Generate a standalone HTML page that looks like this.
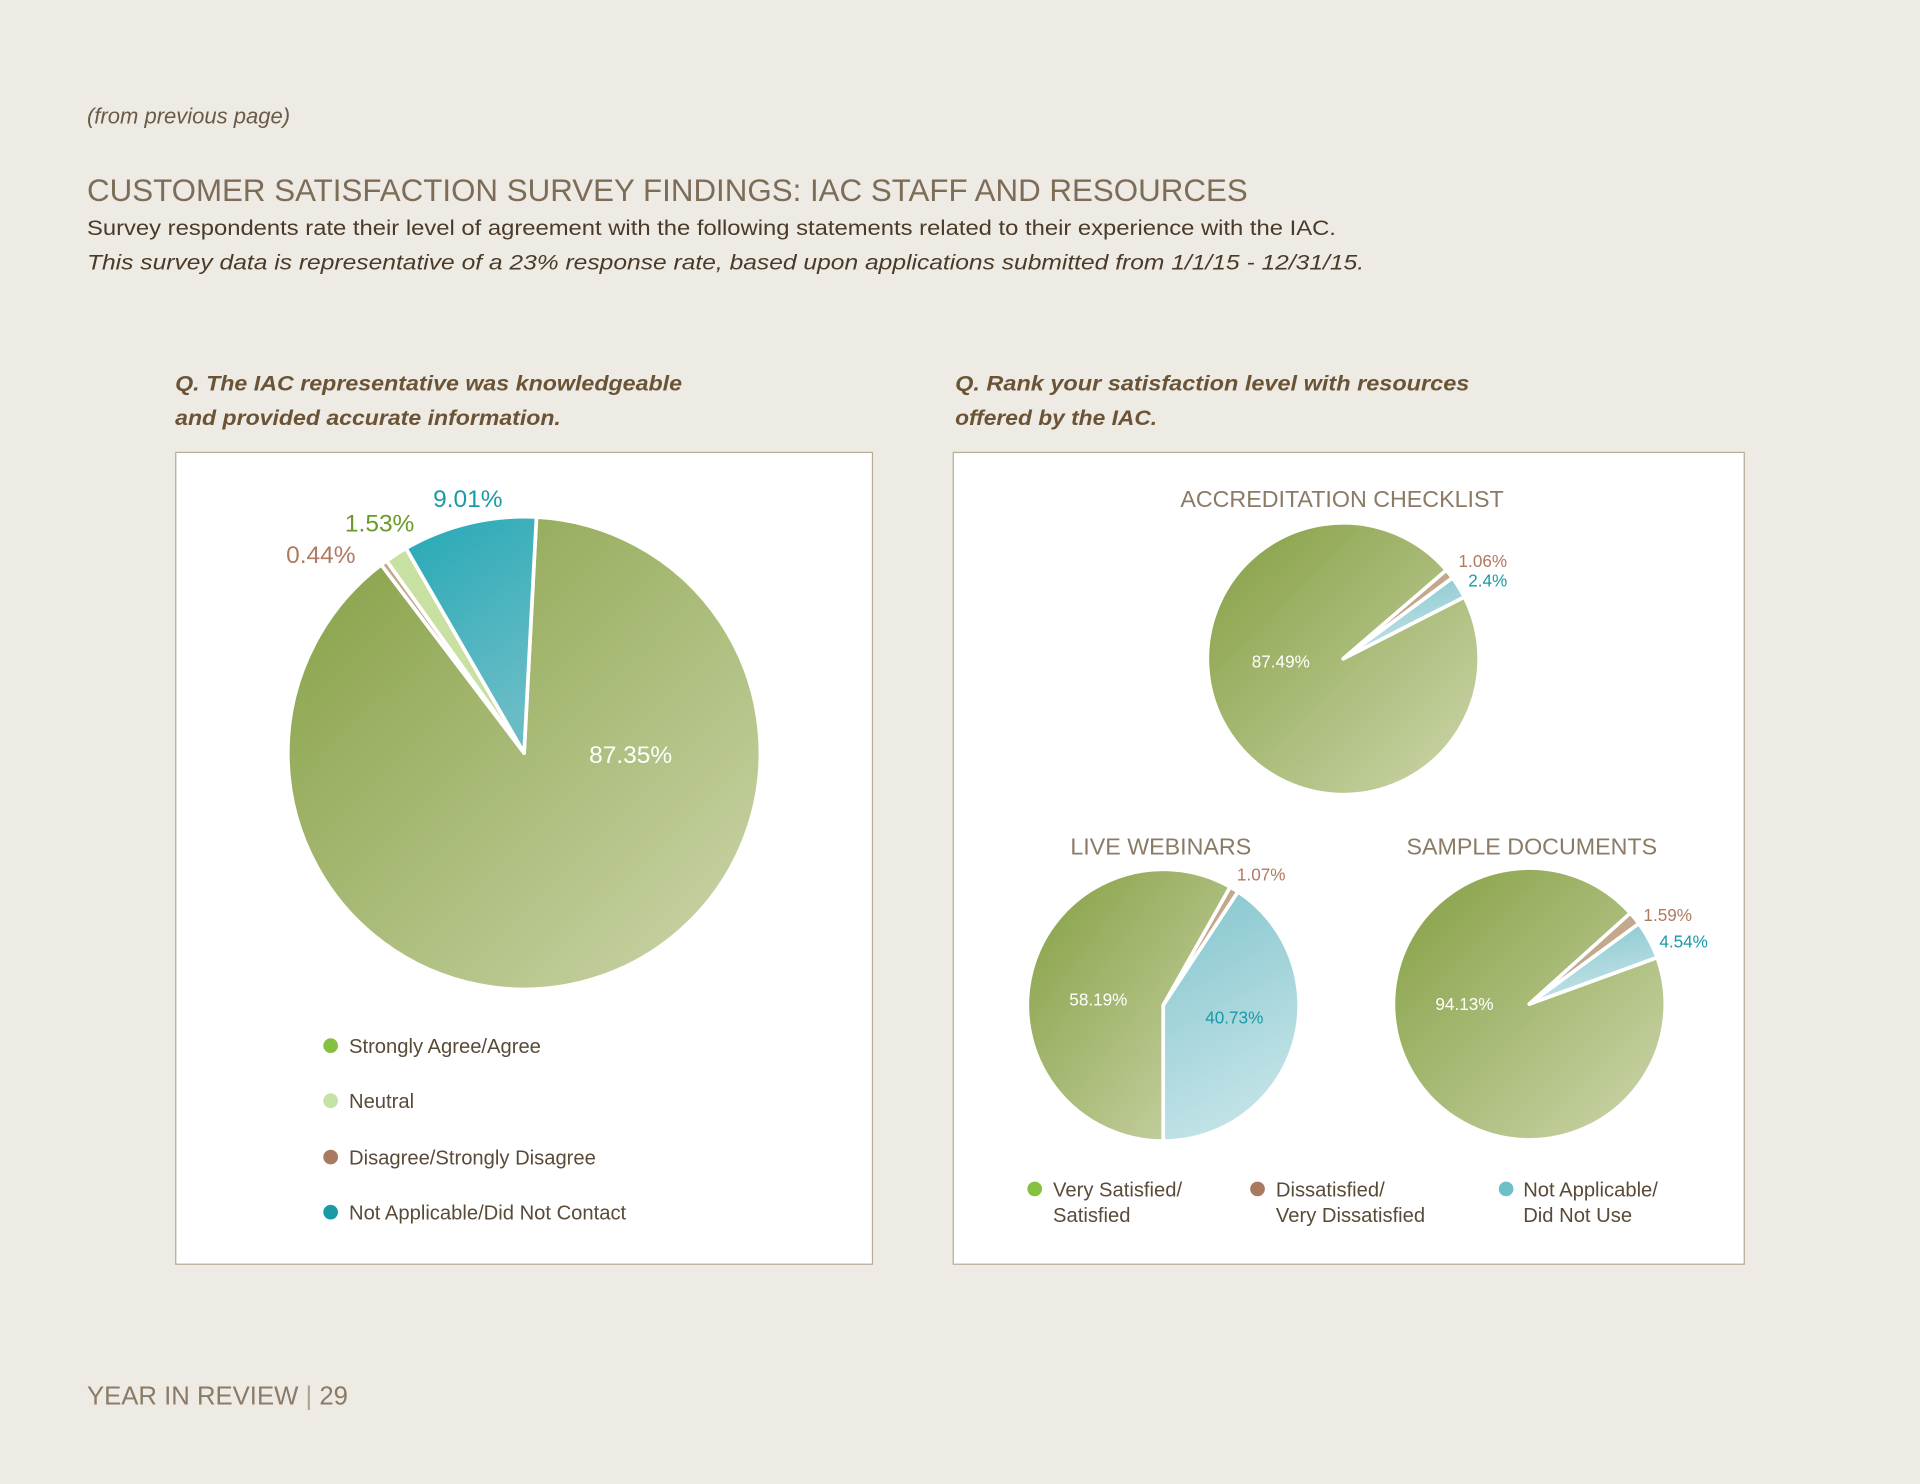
<!DOCTYPE html>
<html><head><meta charset="utf-8"><style>
html,body{margin:0;padding:0;background:#eeebe5;}
svg{display:block;font-family:"Liberation Sans",sans-serif;}
</style></head><body>
<svg id="page" width="1920" height="1484" viewBox="0 0 1568 1212" xmlns="http://www.w3.org/2000/svg">
<defs>
<linearGradient id="gGreen" x1="0" y1="0" x2="1" y2="1"><stop offset="0" stop-color="#849f42"/><stop offset="1" stop-color="#cdd6ac"/></linearGradient>
<linearGradient id="gTeal" x1="0" y1="0" x2="0.4" y2="1"><stop offset="0" stop-color="#26a9b6"/><stop offset="1" stop-color="#68bcc6"/></linearGradient>
<linearGradient id="gBlue" x1="0" y1="0" x2="0.3" y2="1"><stop offset="0" stop-color="#84c5ce"/><stop offset="1" stop-color="#c2e3e7"/></linearGradient>
</defs>
<rect width="1568" height="1212" fill="#eeebe5"/>
<text x="71" y="101" font-size="18" font-style="italic" fill="#6b5a46">(from previous page)</text>
<text x="71" y="164" font-size="26" fill="#7d6d58" textLength="948" lengthAdjust="spacingAndGlyphs">CUSTOMER SATISFACTION SURVEY FINDINGS: IAC STAFF AND RESOURCES</text>
<text x="71" y="192" font-size="17.5" fill="#4a3a28" textLength="1020" lengthAdjust="spacingAndGlyphs">Survey respondents rate their level of agreement with the following statements related to their experience with the IAC.</text>
<text x="71" y="220" font-size="17.5" font-style="italic" fill="#4a3a28" textLength="1043" lengthAdjust="spacingAndGlyphs">This survey data is representative of a 23% response rate, based upon applications submitted from 1/1/15 - 12/31/15.</text>
<text x="143" y="319" font-size="17" font-weight="bold" font-style="italic" fill="#6b5436" textLength="414" lengthAdjust="spacingAndGlyphs">Q.  The IAC representative was knowledgeable</text>
<text x="143" y="347" font-size="17" font-weight="bold" font-style="italic" fill="#6b5436" textLength="315" lengthAdjust="spacingAndGlyphs">and provided accurate information.</text>
<text x="780" y="319" font-size="17" font-weight="bold" font-style="italic" fill="#6b5436" textLength="420" lengthAdjust="spacingAndGlyphs">Q.  Rank your satisfaction level with resources</text>
<text x="780" y="347" font-size="17" font-weight="bold" font-style="italic" fill="#6b5436" textLength="165" lengthAdjust="spacingAndGlyphs">offered by the IAC.</text>
<rect x="143.5" y="369.5" width="569" height="663" fill="#fff" stroke="#b8ab98" stroke-width="1"/>
<rect x="778.5" y="369.5" width="646" height="663" fill="#fff" stroke="#b8ab98" stroke-width="1"/>
<g id="pies"></g>
<text x="1096" y="414" font-size="19" fill="#8a7a66" text-anchor="middle">ACCREDITATION CHECKLIST</text>
<text x="948" y="698" font-size="19" fill="#8a7a66" text-anchor="middle">LIVE WEBINARS</text>
<text x="1251" y="698" font-size="19" fill="#8a7a66" text-anchor="middle">SAMPLE DOCUMENTS</text>
<g font-size="16.5" fill="#5a4a38">
<circle cx="270" cy="854" r="6" fill="#86c040"/>
<text x="285" y="860">Strongly Agree/Agree</text>
<circle cx="270" cy="899" r="6" fill="#c6e3a6"/>
<text x="285" y="905">Neutral</text>
<circle cx="270" cy="945" r="6" fill="#a97a60"/>
<text x="285" y="951">Disagree/Strongly Disagree</text>
<circle cx="270" cy="990" r="6" fill="#1a9aa6"/>
<text x="285" y="996">Not Applicable/Did Not Contact</text>
</g>
<g font-size="16.5" fill="#5a4a38">
<circle cx="845" cy="971" r="6" fill="#86c040"/>
<text x="860" y="977">Very Satisfied/</text>
<text x="860" y="998">Satisfied</text>
<circle cx="1027" cy="971" r="6" fill="#a97a60"/>
<text x="1042" y="977">Dissatisfied/</text>
<text x="1042" y="998">Very Dissatisfied</text>
<circle cx="1230" cy="971" r="6" fill="#6cc0c8"/>
<text x="1244" y="977">Not Applicable/</text>
<text x="1244" y="998">Did Not Use</text>
</g>
<text x="71" y="1147" font-size="21" fill="#8a7a66">YEAR IN REVIEW  <tspan fill="#b0a290">|</tspan>  29</text>
</svg>
<script>
const leftValues = [87.35, 0.44, 1.53, 9.01];
const leftLabels = ["87.35%", "0.44%", "1.53%", "9.01%"];
const accValues = [87.49, 1.06, 2.4];
const accLabels = ["87.49%", "1.06%", "2.4%"];
const webValues = [58.19, 1.07, 40.73];
const webLabels = ["58.19%", "1.07%", "40.73%"];
const docValues = [94.13, 1.59, 4.54];
const docLabels = ["94.13%", "1.59%", "4.54%"];

const NS = "http://www.w3.org/2000/svg";
const root = document.getElementById("pies");
function pt(cx, cy, r, deg) { const a = deg * Math.PI / 180; return [cx + r * Math.sin(a), cy - r * Math.cos(a)]; }
function drawPie(name, cx, cy, r, startDeg, values, fills, labels, labelCols, labelXY, size) {
  const total = values.reduce((a, b) => a + b, 0);
  let ang = startDeg;
  values.forEach((v, i) => {
    const sweep = v / total * 360;
    const p0 = pt(cx, cy, r, ang), p1 = pt(cx, cy, r, ang + sweep);
    const path = document.createElementNS(NS, "path");
    path.setAttribute("d", `M${cx},${cy} L${p0[0]},${p0[1]} A${r},${r} 0 ${sweep > 180 ? 1 : 0} 1 ${p1[0]},${p1[1]} Z`);
    path.setAttribute("fill", fills[i]);
    path.setAttribute("stroke", "#fff");
    path.setAttribute("stroke-width", "3");
    path.setAttribute("stroke-linejoin", "round");
    
    
    root.appendChild(path);
    const t = document.createElementNS(NS, "text");
    t.setAttribute("x", cx + labelXY[i][0]);
    t.setAttribute("y", cy + labelXY[i][1]);
    t.setAttribute("text-anchor", "middle");
    t.setAttribute("font-size", size);
    t.setAttribute("fill", labelCols[i]);
    t.textContent = labels[i];
    
    
    root.appendChild(t);
    ang += sweep;
  });
}
drawPie("knowledgeable-pie", 428, 615, 193, 3, leftValues,
  ["url(#gGreen)", "#c3a88e", "#c8e1a2", "url(#gTeal)"], leftLabels,
  ["#ffffff", "#b07a60", "#6a9a2a", "#1a9aa6"],
  [[87, 8], [-166, -155], [-118, -181], [-46, -201]], 20);
drawPie("accreditation-pie", 1097, 538, 111, 63, accValues,
  ["url(#gGreen)", "#c3a88e", "url(#gBlue)"], accLabels,
  ["#ffffff", "#b07a60", "#1a9aa6"],
  [[-51, 7], [114, -75], [118, -59]], 14);
drawPie("webinars-pie", 950, 821, 111, 180, webValues,
  ["url(#gGreen)", "#c3a88e", "url(#gBlue)"], webLabels,
  ["#ffffff", "#b07a60", "#1a9aa6"],
  [[-53, 0], [80, -102], [58, 15]], 14);
drawPie("sample-docs-pie", 1249, 820, 111, 70, docValues,
  ["url(#gGreen)", "#c3a88e", "url(#gBlue)"], docLabels,
  ["#ffffff", "#b07a60", "#1a9aa6"],
  [[-53, 5], [113, -68], [126, -46]], 14);
</script>
</body></html>
